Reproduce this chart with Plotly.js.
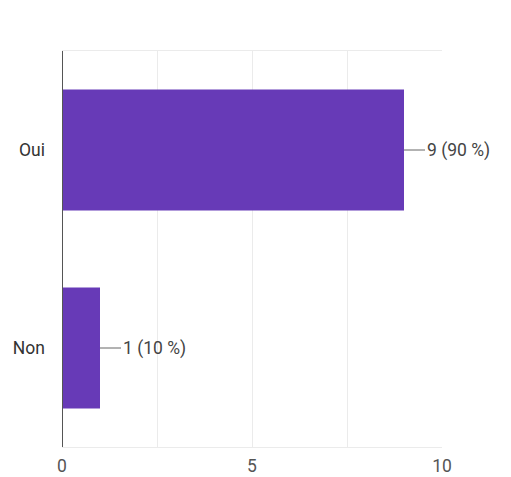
<!DOCTYPE html>
<html><head><meta charset="utf-8">
<script src="https://cdn.plot.ly/plotly-3.0.1.min.js"></script>
<style>html,body{margin:0;padding:0;background:#fff;}#c{width:511px;height:477px;}</style>
</head><body><div id="c"></div>
<script>
const categories = ['Oui', 'Non'];
const counts = [9, 1];
const percents = [90, 10];
const xTickVals = [0, 2.5, 5, 7.5, 10];
const xTickText = ['0', '', '5', '', '10'];

const labels = counts.map((v, i) => v + ' (' + percents[i] + ' %)');

const trace = {
  type: 'bar', orientation: 'h',
  y: categories, x: counts,
  marker: {color: '#673ab7'},
  width: 0.61,
  hoverinfo: 'none'
};

const annotations = counts.map((v, i) => ({
  x: v, y: categories[i], xref: 'x', yref: 'y',
  text: labels[i], showarrow: true, arrowhead: 0, arrowwidth: 1,
  arrowcolor: '#666', ax: 21, ay: 0, xanchor: 'left', standoff: 0,
  font: {family: 'Roboto', size: 17.5, color: '#444'}
}));

const layout = {
  width: 511, height: 477,
  margin: {l: 62, r: 69, t: 51, b: 30},
  paper_bgcolor: '#fff', plot_bgcolor: '#fff',
  showlegend: false,
  font: {family: 'Roboto', size: 17.5, color: '#444'},
  xaxis: {
    range: [0, 10], tickvals: xTickVals, ticktext: xTickText,
    showgrid: true, gridcolor: '#ebebeb', gridwidth: 1,
    zeroline: false, showline: true, linecolor: '#ebebeb', mirror: true,
    ticks: '', ticklabelstandoff: 3,
    tickfont: {family: 'Roboto', size: 17.5, color: '#555'}
  },
  yaxis: {
    categoryorder: 'array', categoryarray: categories.slice().reverse(),
    range: [-0.5, 1.5],
    showgrid: false, zeroline: false, showline: false,
    ticks: '', ticklabelstandoff: 16,
    tickfont: {family: 'Roboto', size: 17.5, color: '#333'}
  },
  shapes: [{type: 'line', xref: 'x', yref: 'paper', x0: 0, x1: 0, y0: 0, y1: 1,
    line: {color: '#555', width: 2}}],
  annotations: annotations
};

Plotly.newPlot('c', [trace], layout, {displayModeBar: false, staticPlot: true});
</script></body></html>
